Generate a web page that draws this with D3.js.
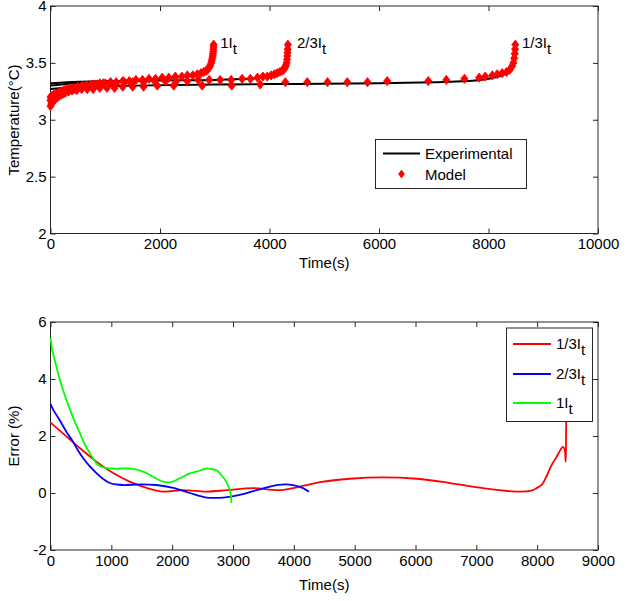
<!DOCTYPE html>
<html><head><meta charset="utf-8">
<script src="https://cdn.jsdelivr.net/npm/d3@7/dist/d3.min.js"></script>
<style>body{margin:0;background:#fff}svg{display:block;font-family:"Liberation Sans",Arial,sans-serif}</style>
</head><body><svg id="c" width="627" height="601"></svg>
<script>
// ---------- Top panel data: temperature (°C) vs time (s) ----------
const topXTicks = [0, 2000, 4000, 6000, 8000, 10000];
const topYTicks = [2, 2.5, 3, 3.5, 4];

const exp1T = [0, 200, 500, 1000, 1500, 2000, 2400, 2700, 2850, 2920, 2960, 2975];
const exp1V = [3.30, 3.31, 3.32, 3.33, 3.35, 3.36, 3.38, 3.40, 3.43, 3.48, 3.56, 3.64];
const exp2T = [0, 300, 1000, 2000, 3000, 3600, 4000, 4200, 4300, 4336];
const exp2V = [3.32, 3.33, 3.34, 3.345, 3.35, 3.36, 3.38, 3.41, 3.48, 3.62];
const exp3T = [0, 500, 1500, 3000, 4500, 6000, 7000, 7600, 8000, 8250, 8400, 8470, 8490];
const exp3V = [3.27, 3.29, 3.30, 3.31, 3.315, 3.32, 3.33, 3.34, 3.36, 3.39, 3.43, 3.50, 3.55];

const mod1T = [0, 20, 40, 60, 80, 100, 130, 160, 200, 240, 280, 330, 380, 440, 500, 570, 640, 720, 800, 900, 1000, 1100, 1200, 1320, 1440, 1560, 1680, 1800, 1920, 2040, 2160, 2280, 2400, 2500, 2600, 2680, 2750, 2800, 2840, 2870, 2900, 2920, 2935, 2945, 2955, 2962, 2968, 2972, 2975, 2978, 2980];
const mod1V = [3.12, 3.14, 3.16, 3.17, 3.18, 3.19, 3.2, 3.21, 3.22, 3.23, 3.24, 3.25, 3.26, 3.27, 3.28, 3.29, 3.3, 3.3, 3.31, 3.32, 3.32, 3.33, 3.33, 3.34, 3.34, 3.35, 3.35, 3.36, 3.36, 3.37, 3.37, 3.38, 3.38, 3.39, 3.39, 3.4, 3.41, 3.42, 3.43, 3.44, 3.46, 3.48, 3.5, 3.52, 3.54, 3.56, 3.58, 3.6, 3.62, 3.64, 3.66];
const mod2T = [0, 20, 40, 60, 90, 120, 160, 200, 250, 300, 360, 420, 500, 580, 670, 760, 860, 960, 1080, 1200, 1350, 1500, 1700, 1900, 2100, 2300, 2500, 2700, 2900, 3100, 3300, 3500, 3650, 3780, 3880, 3960, 4030, 4090, 4140, 4190, 4230, 4260, 4285, 4300, 4312, 4320, 4326, 4330, 4333, 4336];
const mod2V = [3.17, 3.19, 3.2, 3.21, 3.22, 3.23, 3.24, 3.25, 3.26, 3.27, 3.28, 3.28, 3.29, 3.3, 3.3, 3.31, 3.31, 3.32, 3.32, 3.32, 3.33, 3.33, 3.33, 3.34, 3.34, 3.34, 3.34, 3.35, 3.35, 3.35, 3.35, 3.36, 3.36, 3.37, 3.38, 3.38, 3.39, 3.4, 3.41, 3.42, 3.43, 3.44, 3.46, 3.48, 3.5, 3.53, 3.56, 3.59, 3.62, 3.66];
const mod3T = [0, 30, 60, 100, 150, 200, 260, 330, 400, 480, 570, 670, 780, 900, 1030, 1170, 1320, 1500, 1700, 1950, 2250, 2770, 3310, 3830, 4290, 4690, 5060, 5420, 5790, 6150, 6900, 7230, 7560, 7830, 7940, 8070, 8160, 8250, 8330, 8390, 8430, 8455, 8470, 8480, 8486, 8490];
const mod3V = [3.2, 3.21, 3.22, 3.23, 3.24, 3.24, 3.25, 3.25, 3.26, 3.26, 3.27, 3.27, 3.27, 3.28, 3.28, 3.28, 3.29, 3.29, 3.29, 3.3, 3.3, 3.3, 3.3, 3.31, 3.33, 3.33, 3.33, 3.33, 3.33, 3.34, 3.34, 3.35, 3.36, 3.37, 3.38, 3.39, 3.4, 3.41, 3.42, 3.44, 3.47, 3.5, 3.54, 3.58, 3.62, 3.66];

const curveLabels = [{t: 3100, v: 3.67, a: "1I", b: "t"}, {t: 4500, v: 3.67, a: "2/3I", b: "t"}, {t: 8610, v: 3.67, a: "1/3I", b: "t"}];

// ---------- Bottom panel data: error (%) vs time (s) ----------
const botXTicks = [0, 1000, 2000, 3000, 4000, 5000, 6000, 7000, 8000, 9000];
const botYTicks = [-2, 0, 2, 4, 6];

const err13T = [0, 200, 480, 755, 1030, 1300, 1580, 1850, 2180, 2565, 2900, 3330, 3770, 4210, 4430, 4920, 5460, 6020, 6570, 7110, 7660, 7900, 7990, 8080, 8150, 8230, 8320, 8380, 8420, 8450, 8465, 8470, 8475, 8480];
const err13V = [2.47, 2.1, 1.58, 1.1, 0.7, 0.4, 0.18, 0.05, 0.1, 0.05, 0.1, 0.17, 0.1, 0.28, 0.38, 0.5, 0.55, 0.5, 0.35, 0.17, 0.05, 0.08, 0.17, 0.3, 0.57, 0.95, 1.27, 1.5, 1.62, 1.55, 1.2, 1.1, 2.0, 3.0];
const err23T = [0, 50, 150, 260, 370, 450, 535, 640, 755, 860, 975, 1080, 1190, 1470, 1740, 2020, 2290, 2565, 2840, 3110, 3390, 3720, 3990, 4150, 4250];
const err23V = [3.12, 2.9, 2.56, 2.15, 1.8, 1.5, 1.23, 0.95, 0.7, 0.5, 0.35, 0.3, 0.28, 0.3, 0.28, 0.18, 0.0, -0.16, -0.16, -0.07, 0.1, 0.28, 0.28, 0.17, 0.04];
const err1T = [0, 30, 70, 150, 263, 380, 482, 560, 646, 720, 780, 900, 1050, 1190, 1370, 1480, 1580, 1700, 1850, 1980, 2130, 2280, 2400, 2500, 2565, 2650, 2730, 2800, 2870, 2920, 2950, 2975];
const err1V = [5.44, 5.0, 4.67, 4.0, 3.26, 2.6, 2.1, 1.72, 1.4, 1.15, 0.98, 0.88, 0.85, 0.86, 0.85, 0.78, 0.7, 0.55, 0.4, 0.38, 0.52, 0.68, 0.75, 0.82, 0.86, 0.84, 0.8, 0.65, 0.46, 0.25, 0.1, -0.35];

const errNames = ["1/3I", "2/3I", "1I"];
const errColors = ["#ff0000", "#0000ff", "#00ff00"];

// ---------- Drawing ----------
const svg = d3.select("#c");
const FONT = 15;
const axisCol = "#262626";
const zip = (T, V) => T.map((t, i) => [t, V[i]]);

function panel(x0, x1, y0, y1, xDom, yDom, xTicks, yTicks) {
  const x = d3.scaleLinear().domain(xDom).range([x0, x1]);
  const y = d3.scaleLinear().domain(yDom).range([y1, y0]);
  const g = svg.append("g");
  const mk = (ax) => ax.tickSizeInner(-5).tickSizeOuter(0);
  const bx = g.append("g").attr("transform", `translate(0,${y1})`).call(mk(d3.axisBottom(x)).tickValues(xTicks).tickPadding(5).tickFormat(d3.format("d")));
  const tx = g.append("g").attr("transform", `translate(0,${y0})`).call(mk(d3.axisTop(x)).tickValues(xTicks).tickFormat(""));
  const ly = g.append("g").attr("transform", `translate(${x0},0)`).call(mk(d3.axisLeft(y)).tickValues(yTicks).tickPadding(4).tickFormat(d => String(d)));
  const ry = g.append("g").attr("transform", `translate(${x1},0)`).call(mk(d3.axisRight(y)).tickValues(yTicks).tickFormat(""));
  [bx, tx, ly, ry].forEach(a => {
    a.select(".domain").remove();
    a.selectAll("line").attr("stroke", axisCol);
    a.selectAll("text").attr("font-size", FONT).attr("font-family", "Liberation Sans, Arial, sans-serif").attr("fill", "#000");
  });
  g.append("rect").attr("x", x0).attr("y", y0).attr("width", x1 - x0).attr("height", y1 - y0)
    .attr("fill", "none").attr("stroke", axisCol).attr("stroke-width", 1);
  return {x, y, g};
}

// Top panel
const P1 = panel(50.5, 598, 6, 233.5, [0, 10000], [2, 4], topXTicks, topYTicks);
const plot1 = svg.append("g");
const line1 = d3.line().x(d => P1.x(d[0])).y(d => P1.y(d[1])).curve(d3.curveMonotoneX);
[[exp1T, exp1V], [exp2T, exp2V], [exp3T, exp3V]].forEach(([T, V]) => {
  plot1.append("path").datum(zip(T, V)).attr("d", line1).attr("fill", "none").attr("stroke", "#000").attr("stroke-width", 2);
});
const diamond = (cx, cy, w, h) => `M${cx},${cy - h}L${cx + w},${cy}L${cx},${cy + h}L${cx - w},${cy}Z`;
[[mod1T, mod1V], [mod2T, mod2V], [mod3T, mod3V]].forEach(([T, V]) => {
  plot1.append("g").selectAll("path").data(zip(T, V)).join("path")
    .attr("d", d => diamond(P1.x(d[0]), P1.y(d[1]), 3.6, 4.6)).attr("fill", "#ff0000").attr("stroke", "#ff0000").attr("stroke-width", 0.8);
});
curveLabels.forEach(l => {
  const t = svg.append("text").attr("x", P1.x(l.t)).attr("y", P1.y(l.v) + 4).attr("font-size", FONT).attr("fill", "#000");
  t.append("tspan").text(l.a);
  t.append("tspan").attr("dy", 6).text(l.b);
});
svg.append("text").attr("x", (50.5 + 598) / 2).attr("y", 268).attr("text-anchor", "middle").attr("font-size", FONT).text("Time(s)");
svg.append("text").attr("transform", "translate(19,120) rotate(-90)").attr("text-anchor", "middle").attr("font-size", FONT).text("Temperature(°C)");

// Top legend
const lg1 = svg.append("g");
lg1.append("rect").attr("x", 375.5).attr("y", 139.5).attr("width", 151).attr("height", 49).attr("fill", "#fff").attr("stroke", axisCol);
lg1.append("line").attr("x1", 383).attr("x2", 420).attr("y1", 153.5).attr("y2", 153.5).attr("stroke", "#000").attr("stroke-width", 2);
lg1.append("text").attr("x", 425).attr("y", 159).attr("font-size", FONT).text("Experimental");
lg1.append("path").attr("d", diamond(401.5, 174, 2.8, 3.8)).attr("fill", "#ff0000").attr("stroke", "#ff0000");
lg1.append("text").attr("x", 425).attr("y", 180).attr("font-size", FONT).text("Model");

// Bottom panel
const P2 = panel(50.5, 598, 322, 550, [0, 9000], [-2, 6], botXTicks, botYTicks);
const plot2 = svg.append("g");
const line2 = d3.line().x(d => P2.x(d[0])).y(d => P2.y(d[1])).curve(d3.curveCatmullRom.alpha(0.5));
[[err13T, err13V], [err23T, err23V], [err1T, err1V]].forEach(([T, V], i) => {
  plot2.append("path").datum(zip(T, V)).attr("d", line2).attr("fill", "none").attr("stroke", errColors[i]).attr("stroke-width", 1.8);
});
svg.append("text").attr("x", (50.5 + 598) / 2).attr("y", 590).attr("text-anchor", "middle").attr("font-size", FONT).text("Time(s)");
svg.append("text").attr("transform", "translate(19,436) rotate(-90)").attr("text-anchor", "middle").attr("font-size", FONT).text("Error (%)");

// Bottom legend
const lg2 = svg.append("g");
lg2.append("rect").attr("x", 506.5).attr("y", 328).attr("width", 86).attr("height", 93.5).attr("fill", "#fff").attr("stroke", axisCol);
const legY = [344, 374, 403];
errNames.forEach((n, i) => {
  lg2.append("line").attr("x1", 513).attr("x2", 551).attr("y1", legY[i]).attr("y2", legY[i]).attr("stroke", errColors[i]).attr("stroke-width", 2);
  const t = lg2.append("text").attr("x", 556).attr("y", legY[i] + 5).attr("font-size", FONT);
  t.append("tspan").text(n);
  t.append("tspan").attr("dy", 6).text("t");
});
</script></body></html>
